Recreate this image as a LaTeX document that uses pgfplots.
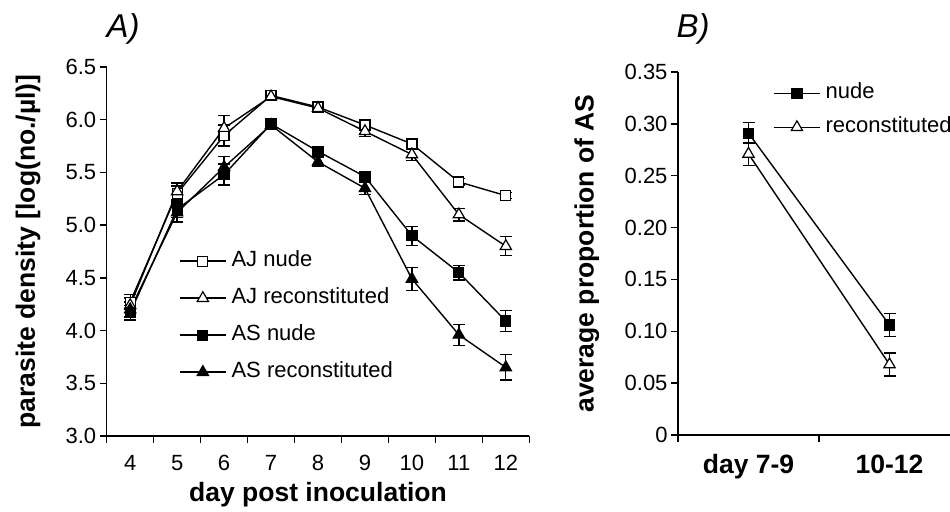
\documentclass[border=0pt]{standalone}
\usepackage{fontspec}
\setmainfont{Liberation Sans}
\usepackage{pgfplots}
\pgfplotsset{compat=1.18}
\pgfplotstableread{
x y e
4 4.27 0.07
5 5.30 0.07
6 5.85 0.10
7 6.23 0.04
8 6.12 0.04
9 5.95 0.03
10 5.77 0.03
11 5.41 0.03
12 5.28 0.03
}\AJnude
\pgfplotstableread{
x y e
4 4.24 0.07
5 5.32 0.08
6 5.92 0.12
7 6.22 0.04
8 6.11 0.04
9 5.89 0.05
10 5.67 0.06
11 5.10 0.06
12 4.80 0.09
}\AJrec
\pgfplotstableread{
x y e
4 4.17 0.07
5 5.15 0.08
6 5.48 0.10
7 5.96 0.03
8 5.70 0.04
9 5.46 0.04
10 4.90 0.09
11 4.55 0.07
12 4.09 0.10
}\ASnude
\pgfplotstableread{
x y e
4 4.20 0.07
5 5.12 0.09
6 5.55 0.10
7 5.95 0.03
8 5.60 0.04
9 5.35 0.06
10 4.49 0.11
11 3.96 0.10
12 3.65 0.12
}\ASrec
\pgfplotstableread{
x y e
1 0.291 0.010
2 0.106 0.011
}\Bnude
\pgfplotstableread{
x y e
1 0.271 0.011
2 0.068 0.011
}\Brec
\pgfplotsset{
  common/.style={
    scale only axis,
    axis lines*=left,
    axis line style={line width=1.4bp},
    tick align=outside,
    major tick length=7bp, minor tick length=7bp,
    every tick/.style={black, line width=1.4bp},
    major x tick style={draw=none},
    ticklabel style={font=\fontsize{22bp}{26bp}\selectfont},
    xticklabel style={yshift=-9bp},
    label style={font=\fontsize{26.5bp}{30bp}\selectfont\bfseries},
    legend cell align=left,
    legend style={draw=none, fill=none, inner sep=0pt, column sep=5bp,
      nodes={inner sep=0pt, text height=15bp, text depth=4bp, font=\fontsize{22bp}{25bp}\selectfont}},
    legend image code/.code={\draw[mark repeat=2,mark phase=2] plot coordinates {(0bp,0bp)(23bp,0bp)(46bp,0bp)};},
    clip=false,
  },
  ser/.style={black, line width=1.4bp, mark=#1,
    error bars/y dir=both, error bars/y explicit,
    error bars/error bar style={line width=1.3bp, solid},
    error bars/error mark options={rotate=90, mark size=6bp, line width=1.3bp}},
}
\begin{document}
\begin{tikzpicture}
\useasboundingbox (0bp,0bp) rectangle (950bp,512bp);
\begin{axis}[common,
  at={(106.7bp,76bp)}, anchor=south west,
  width=422.6bp, height=369bp,
  xmin=3.5, xmax=12.5, ymin=3, ymax=6.5,
  xtick={4,5,6,7,8,9,10,11,12},
  xticklabels={4,5,6,7,8,9,10,11,12},
  minor xtick={3.5,4.5,5.5,6.5,7.5,8.5,9.5,10.5,11.5,12.5},
  ytick={3,3.5,4,4.5,5,5.5,6,6.5},
  yticklabels={3.0,3.5,4.0,4.5,5.0,5.5,6.0,6.5},
  xlabel={day post inoculation},
  ylabel={parasite density [log(no./µl)]},
  xlabel style={at={(axis description cs:0.5,-0.160)}, anchor=center},
  ylabel style={at={(axis description cs:-0.186,0.5)}, anchor=center},
  legend style={at={(axis description cs:0.171,0.500)}, anchor=north west, row sep=18bp},
]
\addplot[ser=square*, mark options={fill=white, solid, mark size=5bp, line width=1.2bp}] table[x=x,y=y,y error=e] {\AJnude};
\addlegendentry{AJ nude}
\addplot[ser=triangle*, mark options={fill=white, solid, mark size=6.5bp, line width=1.2bp}] table[x=x,y=y,y error=e] {\AJrec};
\addlegendentry{AJ reconstituted}
\addplot[ser=square*, mark options={fill=black, solid, mark size=5bp, line width=1.2bp}] table[x=x,y=y,y error=e] {\ASnude};
\addlegendentry{AS nude}
\addplot[ser=triangle*, mark options={fill=black, solid, mark size=6.5bp, line width=1.2bp}] table[x=x,y=y,y error=e] {\ASrec};
\addlegendentry{AS reconstituted}
\end{axis}
\begin{axis}[common,
  at={(678bp,77bp)}, anchor=south west,
  width=282bp, height=363bp,
  xmin=0.5, xmax=2.5, ymin=0, ymax=0.35,
  xtick={1,2},
  xticklabels={day 7-9,10-12},
  xticklabel style={font=\fontsize{26.5bp}{30bp}\selectfont\bfseries},
  minor xtick={0.5,1.5,2.5},
  ytick={0,0.05,0.1,0.15,0.2,0.25,0.3,0.35},
  yticklabels={0,0.05,0.10,0.15,0.20,0.25,0.30,0.35},
  ylabel={average proportion of AS},
  ylabel style={at={(axis description cs:-0.323,0.5)}, anchor=center},
  legend style={at={(axis description cs:0.337,0.968)}, anchor=north west, row sep=15bp},
]
\addplot[ser=square*, mark options={fill=black, solid, mark size=5bp, line width=1.2bp}] table[x=x,y=y,y error=e] {\Bnude};
\addlegendentry{nude}
\addplot[ser=triangle*, mark options={fill=white, solid, mark size=6.5bp, line width=1.2bp}] table[x=x,y=y,y error=e] {\Brec};
\addlegendentry{reconstituted}
\end{axis}
\node[font=\fontsize{33bp}{36bp}\selectfont\itshape] at (123bp,483bp) {A)};
\node[font=\fontsize{33bp}{36bp}\selectfont\itshape] at (693bp,483bp) {B)};
\end{tikzpicture}
\end{document}
